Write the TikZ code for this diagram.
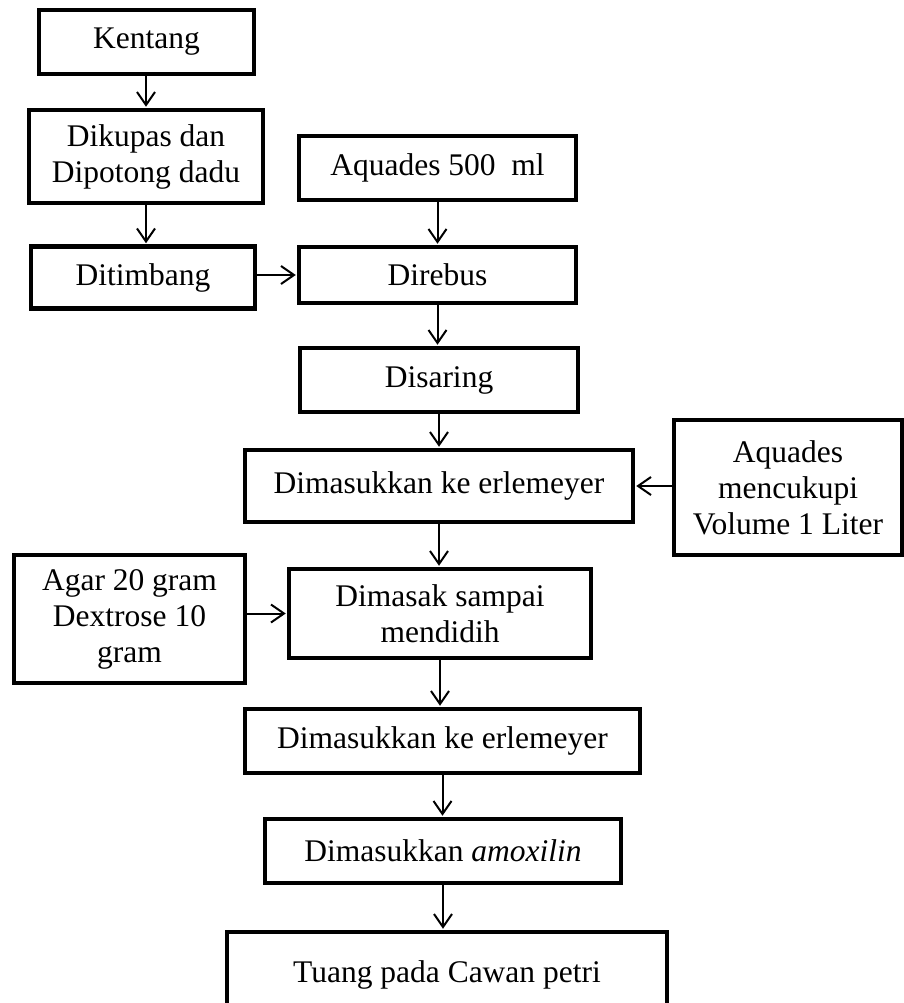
\documentclass[tikz,border=0pt]{standalone}
\usepackage{fontspec}
\setmainfont{Liberation Serif}
\usetikzlibrary{arrows.meta}
\tikzset{
  box/.style={draw, line width=4.5pt, fill=white, inner sep=0pt, align=center,
    font=\fontsize{31.5}{36}\selectfont},
  arr/.style={line width=2pt, -{Straight Barb[length=13pt,width=18pt,line width=2pt]}, shorten >=1pt}
}
\begin{document}
\begin{tikzpicture}[x=1pt,y=-1pt]
\useasboundingbox (0,0) rectangle (904,1003);
\clip (0,0) rectangle (904,1003);
\fill[white] (0,0) rectangle (904,1003);
\node[box, minimum width=215pt, minimum height=64pt] (kentang) at (146.5,42) {Kentang};
\node[box, minimum width=234pt, minimum height=93pt] (kupas) at (146,156.5) {Dikupas dan\\Dipotong dadu};
\node[box, minimum width=224pt, minimum height=62pt] (timbang) at (143,277.5) {Ditimbang};
\node[box, minimum width=277pt, minimum height=64pt] (aq500) at (437.5,168) {Aquades 500~~ml};
\node[box, minimum width=277pt, minimum height=56pt] (rebus) at (437.5,275) {Direbus};
\node[box, minimum width=278pt, minimum height=64pt] (saring) at (439,380) {Disaring};
\node[box, minimum width=388pt, minimum height=72pt] (masuk1) at (439,486) {Dimasukkan ke erlemeyer};
\node[box, minimum width=228pt, minimum height=135pt] (aqvol) at (788,487.5) {Aquades\\mencukupi\\Volume 1 Liter};
\node[box, minimum width=231pt, minimum height=128pt] (agar) at (129.5,619) {Agar 20 gram\\Dextrose 10\\gram};
\node[box, minimum width=302pt, minimum height=89pt] (masak) at (440,613.5) {Dimasak sampai\\mendidih};
\node[box, minimum width=395pt, minimum height=64pt] (masuk2) at (442.5,741) {Dimasukkan ke erlemeyer};
\node[box, minimum width=356pt, minimum height=64pt] (amox) at (443,851) {Dimasukkan \textit{amoxilin}};
\node[box, minimum width=440pt, minimum height=86pt] (tuang) at (447,975) {Tuang pada Cawan petri};
\draw[arr] (kentang.south -| kupas.north) -- (kupas.north);
\draw[arr] (kupas.south) -- (kupas.south |- timbang.north);
\draw[arr] (timbang.east |- rebus.west) -- (rebus.west);
\draw[arr] (aq500.south) -- (rebus.north);
\draw[arr] (rebus.south) -- (rebus.south |- saring.north);
\draw[arr] (saring.south) -- (saring.south |- masuk1.north);
\draw[arr] (aqvol.west |- masuk1.east) -- (masuk1.east);
\draw[arr] (masuk1.south) -- (masuk1.south |- masak.north);
\draw[arr] (agar.east |- masak.west) -- (masak.west);
\draw[arr] (masak.south) -- (masak.south |- masuk2.north);
\draw[arr] (masuk2.south) -- (masuk2.south |- amox.north);
\draw[arr] (amox.south) -- (amox.south |- tuang.north);
\end{tikzpicture}
\end{document}
